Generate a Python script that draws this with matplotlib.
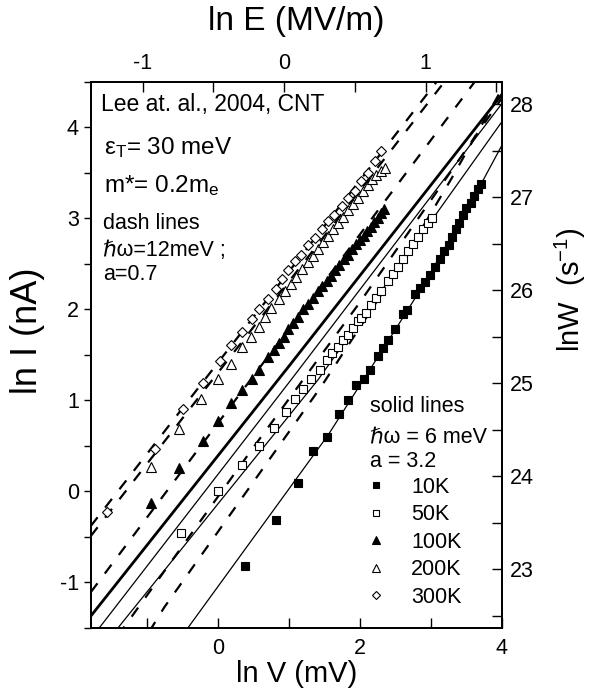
import numpy as np
import matplotlib
matplotlib.use("Agg")
import matplotlib.pyplot as plt
from matplotlib.ticker import MultipleLocator

plt.rcParams['font.family'] = ['Liberation Sans', 'DejaVu Sans']
plt.rcParams['mathtext.fontset'] = 'custom'
plt.rcParams['mathtext.rm'] = 'Liberation Sans'
plt.rcParams['mathtext.it'] = 'Liberation Sans:italic'
plt.rcParams['axes.unicode_minus'] = False

# measured points, ln V (mV) vs ln I (nA)
v_10K = [0.37, 0.82, 1.12, 1.34, 1.54, 1.70, 1.83, 1.95, 2.05, 2.14, 2.25, 2.33, 2.39, 2.50, 2.61,
         2.66, 2.78, 2.84, 2.92, 2.99, 3.06, 3.13, 3.19, 3.25, 3.30, 3.36, 3.40, 3.46, 3.50, 3.56,
         3.61, 3.67, 3.71]
i_10K = [-0.82, -0.31, 0.09, 0.44, 0.60, 0.85, 1.01, 1.17, 1.24, 1.33, 1.49, 1.58, 1.67, 1.79, 1.95,
         1.99, 2.17, 2.24, 2.30, 2.38, 2.47, 2.56, 2.64, 2.71, 2.80, 2.88, 2.95, 3.04, 3.11, 3.17,
         3.25, 3.32, 3.38]

v_50K = [-0.52, 0.00, 0.34, 0.57, 0.79, 0.95, 1.08, 1.20, 1.31, 1.43, 1.53, 1.60, 1.69, 1.76, 1.83,
         1.90, 1.97, 2.02, 2.09, 2.16, 2.23, 2.30, 2.40, 2.47, 2.54, 2.61, 2.68, 2.75, 2.82, 2.89,
         2.96, 3.02]
i_50K = [-0.46, 0.00, 0.29, 0.50, 0.70, 0.87, 1.02, 1.13, 1.24, 1.34, 1.45, 1.52, 1.59, 1.67, 1.72,
         1.80, 1.87, 1.91, 1.96, 2.05, 2.13, 2.20, 2.31, 2.39, 2.47, 2.56, 2.64, 2.72, 2.80, 2.88,
         2.95, 3.01]

v_100K = [-0.95, -0.55, -0.22, 0.00, 0.18, 0.33, 0.47, 0.58, 0.70, 0.78, 0.86, 0.93, 0.99, 1.06,
          1.13, 1.20, 1.27, 1.34, 1.41, 1.47, 1.53, 1.59, 1.65, 1.71, 1.77, 1.83, 1.89, 1.95, 2.00,
          2.05, 2.10, 2.15, 2.20, 2.25, 2.30, 2.34]
i_100K = [-0.13, 0.26, 0.55, 0.77, 0.97, 1.12, 1.24, 1.34, 1.48, 1.56, 1.63, 1.70, 1.79, 1.85,
          1.92, 2.00, 2.06, 2.13, 2.20, 2.26, 2.31, 2.37, 2.43, 2.49, 2.55, 2.60, 2.66, 2.72, 2.76,
          2.81, 2.86, 2.91, 2.96, 3.01, 3.06, 3.10]

v_200K = [-0.95, -0.55, -0.24, -0.01, 0.18, 0.33, 0.46, 0.57, 0.66, 0.75, 0.85, 0.94, 1.03, 1.10,
          1.18, 1.26, 1.33, 1.41, 1.48, 1.55, 1.62, 1.69, 1.76, 1.83, 1.90, 1.97, 2.04, 2.11, 2.17,
          2.23, 2.29, 2.35]
i_200K = [0.27, 0.69, 1.02, 1.24, 1.40, 1.59, 1.70, 1.81, 1.92, 2.02, 2.11, 2.20, 2.28, 2.36,
          2.44, 2.52, 2.59, 2.67, 2.74, 2.81, 2.88, 2.95, 3.02, 3.09, 3.16, 3.23, 3.30, 3.37, 3.43,
          3.48, 3.52, 3.56]

v_300K = [-1.57, -0.90, -0.50, -0.22, 0.02, 0.18, 0.33, 0.47, 0.58, 0.70, 0.82, 0.90, 0.98, 1.08,
          1.17, 1.27, 1.36, 1.46, 1.55, 1.64, 1.74, 1.83, 1.93, 2.02, 2.11, 2.21, 2.30]
i_300K = [-0.23, 0.47, 0.91, 1.19, 1.43, 1.61, 1.75, 1.89, 2.00, 2.11, 2.22, 2.33, 2.43, 2.53,
          2.60, 2.71, 2.79, 2.88, 2.97, 3.04, 3.14, 3.23, 3.30, 3.41, 3.50, 3.63, 3.74]

# model curves: dashed (hw=12meV, a=0.7), solid (hw=6meV, a=3.2)
dash_300K_v = [-1.8, 4.0]
dash_300K_i = [-0.38, 5.42]
dash_200K_v = [-1.8, 4.0]
dash_200K_i = [-0.49, 5.31]
dash_100K_v = [-1.8, 4.0]
dash_100K_i = [-1.107, 4.896]
dash_50K_v = [-1.8, 0.51, 2.0, 4.0]
dash_50K_i = [-2.0, 0.50, 2.08, 4.32]
dash_10K_v = [-1.8, -0.76, 1.455, 2.5, 3.3, 4.0]
dash_10K_i = [-2.58, -1.27, 1.156, 2.40, 3.45, 4.42]

solid_hi_v = [-1.8, 1.0, 4.0]
solid_hi_i = [-1.37, 1.38, 4.36]
solid_100K_v = [-1.8, 1.03, 4.0]
solid_100K_i = [-1.62, 1.23, 4.26]
solid_50K_v = [-1.8, 1.41, 4.0]
solid_50K_i = [-1.87, 1.23, 4.06]
solid_10K_v = [-0.43, 1.55, 2.50, 2.92, 3.71, 4.0]
solid_10K_i = [-1.50, 0.62, 1.78, 2.30, 3.38, 3.80]

fig = plt.figure(figsize=(6.03, 6.90), dpi=100)
ax = fig.add_axes([0.1517, 0.0899, 0.6803, 0.7913])

dkw = dict(color='black', lw=1.6, dashes=(5, 5.5))
ax.plot(dash_300K_v, dash_300K_i, **dkw)
ax.plot(dash_200K_v, dash_200K_i, **dkw)
ax.plot(dash_100K_v, dash_100K_i, **dkw)
ax.plot(dash_50K_v, dash_50K_i, **dkw)
ax.plot(dash_10K_v, dash_10K_i, **dkw)
ax.plot(solid_hi_v, solid_hi_i, color='black', lw=2.0)
ax.plot(solid_100K_v, solid_100K_i, color='black', lw=0.9)
ax.plot(solid_50K_v, solid_50K_i, color='black', lw=0.9)
ax.plot(solid_10K_v, solid_10K_i, color='black', lw=0.9)

mk = dict(ls='none', mec='black', mew=0.8)
ax.plot(v_10K, i_10K, marker='s', ms=6, mfc='black', label='10K', **mk)
ax.plot(v_50K, i_50K, marker='s', ms=6, mfc='white', label='50K', **mk)
ax.plot(v_100K, i_100K, marker='^', ms=7, mfc='black', label='100K', **mk)
ax.plot(v_200K, i_200K, marker='^', ms=7, mfc='white', label='200K', **mk)
ax.plot(v_300K, i_300K, marker='D', ms=5.5, mfc='white', label='300K', **mk)

ax.set_xlim(-1.79, 4.0)
ax.set_ylim(-1.5, 4.5)
ax.xaxis.set_major_locator(MultipleLocator(2))
ax.xaxis.set_minor_locator(MultipleLocator(1))
ax.yaxis.set_major_locator(MultipleLocator(1))
ax.yaxis.set_minor_locator(MultipleLocator(0.5))
ax.tick_params(axis='x', which='both', direction='in', length=7, width=1, labelsize=15.5, pad=7)
ax.tick_params(axis='y', which='both', direction='out', length=5, width=1, labelsize=15.5, pad=4)
ax.set_xlabel('ln V (mV)', fontsize=21, labelpad=1)
ax.set_ylabel('ln I (nA)', fontsize=26)
ax.yaxis.set_label_coords(-0.113, 0.544)

top = ax.twiny()
top.set_xlim(-1.362, 1.537)
top.xaxis.set_major_locator(MultipleLocator(1))
top.xaxis.set_minor_locator(MultipleLocator(0.5))
top.tick_params(axis='x', which='both', direction='in', length=7, width=1, labelsize=15.5, pad=6)
top.set_xlabel('ln E (MV/m)', fontsize=24, labelpad=16)

right = ax.twinx()
right.set_ylim(22.37, 28.24)
right.yaxis.set_major_locator(MultipleLocator(1))
right.yaxis.set_minor_locator(MultipleLocator(0.5))
right.tick_params(axis='y', which='both', direction='in', length=7, width=1, labelsize=15.5, pad=6)
right.set_ylabel('lnW  (s$^{-1}$)', fontsize=21)
right.yaxis.set_label_coords(1.125, 0.62)

for a in (ax, top, right):
    for s in a.spines.values():
        s.set_linewidth(1.2)

tr = ax.transAxes
ax.text(0.023, 0.958, 'Lee at. al., 2004, CNT', transform=tr, fontsize=16.5, va='center')
ax.text(0.030, 0.879, 'ε$_\\mathrm{T}$= 30 meV', transform=tr, fontsize=17.5, va='center')
ax.text(0.030, 0.811, 'm*= 0.2m$_\\mathrm{e}$', transform=tr, fontsize=17.5, va='center')
ax.text(0.028, 0.740, 'dash lines', transform=tr, fontsize=15.5, va='center')
ax.text(0.028, 0.692, 'ℏω=12meV ;', transform=tr, fontsize=15.5, va='center')
ax.text(0.028, 0.648, 'a=0.7', transform=tr, fontsize=15.5, va='center')
ax.text(0.679, 0.405, 'solid lines', transform=tr, fontsize=15.5, va='center')
ax.text(0.679, 0.350, 'ℏω = 6 meV', transform=tr, fontsize=15.5, va='center')
ax.text(0.679, 0.305, 'a = 3.2', transform=tr, fontsize=15.5, va='center')

ax.legend(loc='upper left', bbox_to_anchor=(0.668, 0.2766), frameon=False, fontsize=15.5,
          handlelength=1.0, handletextpad=1.13, borderpad=0, borderaxespad=0,
          labelspacing=0.3, markerscale=0.8)

fig.savefig('out.png', dpi=100)
